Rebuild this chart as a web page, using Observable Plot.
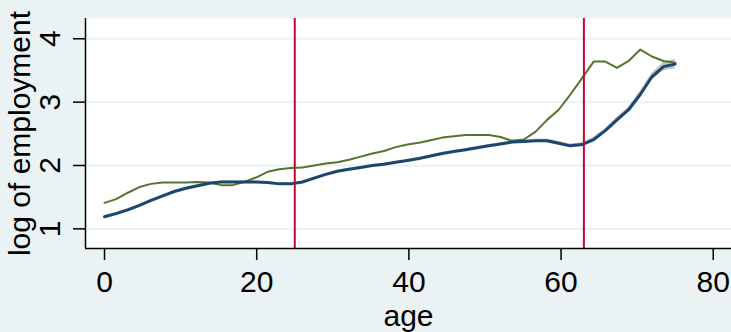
<!DOCTYPE html>
<html>
<head>
<meta charset="utf-8">
<script src="https://cdn.jsdelivr.net/npm/d3@7"></script>
<script src="https://cdn.jsdelivr.net/npm/@observablehq/plot@0.6"></script>
<style>
  html, body { margin: 0; padding: 0; background: #eaf2f3; }
  #chart { width: 731px; height: 332px; }
</style>
</head>
<body>
<div id="chart"></div>
<script>
// ---- data ----
const ages = [0, 1.53, 3.06, 4.59, 6.12, 7.65, 9.18, 10.71, 12.24, 13.78,
  15.31, 16.84, 18.37, 19.9, 21.43, 22.96, 24.49, 26.02, 27.55, 29.08,
  30.61, 32.14, 33.67, 35.2, 36.73, 38.27, 39.8, 41.33, 42.86, 44.39,
  45.92, 47.45, 48.98, 50.51, 52.04, 53.57, 55.1, 56.63, 58.16, 59.69,
  61.22, 62.76, 64.29, 65.82, 67.35, 68.88, 70.41, 71.94, 73.47, 75.0];

const greenSeries = [1.41, 1.47, 1.57, 1.66, 1.71, 1.73, 1.73, 1.73, 1.74, 1.73,
  1.69, 1.69, 1.74, 1.81, 1.90, 1.94, 1.96, 1.97, 2.00, 2.03,
  2.05, 2.09, 2.14, 2.19, 2.23, 2.29, 2.33, 2.36, 2.40, 2.44,
  2.46, 2.48, 2.48, 2.48, 2.45, 2.39, 2.41, 2.53, 2.72, 2.88,
  3.12, 3.38, 3.64, 3.64, 3.54, 3.65, 3.83, 3.72, 3.65, 3.62];

const blueSeries = [1.19, 1.24, 1.30, 1.37, 1.45, 1.52, 1.59, 1.64, 1.68, 1.72,
  1.74, 1.74, 1.74, 1.74, 1.73, 1.71, 1.71, 1.74, 1.80, 1.86,
  1.91, 1.94, 1.97, 2.00, 2.02, 2.05, 2.08, 2.11, 2.15, 2.19,
  2.22, 2.25, 2.28, 2.31, 2.34, 2.37, 2.38, 2.39, 2.39, 2.35,
  2.31, 2.33, 2.41, 2.55, 2.72, 2.88, 3.12, 3.40, 3.56, 3.60];

const blueCiHalf = [0.02, 0.02, 0.02, 0.015, 0.015, 0.015, 0.015, 0.015, 0.015, 0.015,
  0.015, 0.015, 0.015, 0.015, 0.015, 0.015, 0.015, 0.015, 0.015, 0.015,
  0.015, 0.015, 0.015, 0.015, 0.015, 0.015, 0.015, 0.015, 0.015, 0.015,
  0.015, 0.015, 0.02, 0.02, 0.02, 0.025, 0.025, 0.025, 0.03, 0.03,
  0.03, 0.03, 0.035, 0.035, 0.04, 0.045, 0.05, 0.055, 0.065, 0.075];

const cutoffAges = [25, 63];
const xTicks = [0, 20, 40, 60, 80];
const yTicks = [1, 2, 3, 4];
const xLabel = "age";
const yLabel = "log of employment";

// ---- build table ----
const rows = ages.map((a, i) => ({
  age: a,
  green: greenSeries[i],
  blue: blueSeries[i],
  lo: blueSeries[i] - blueCiHalf[i],
  hi: blueSeries[i] + blueCiHalf[i]
}));

const xDomain = [-2.5, 82.4];
const yDomain = [0.69, 4.32];
const font = "'Liberation Sans', Arial, Helvetica, sans-serif";

const chart = Plot.plot({
  width: 731,
  height: 332,
  marginLeft: 85,
  marginRight: 0,
  marginTop: 18,
  marginBottom: 84,
  style: { background: "#eaf2f3", fontFamily: font, fontSize: "30px", color: "#000" },
  x: { domain: xDomain, axis: null },
  y: { domain: yDomain, axis: null },
  marks: [
    Plot.frame({ fill: "#ffffff", stroke: "none" }),
    Plot.gridY(yTicks, { stroke: "#eaf2f3", strokeOpacity: 1, strokeWidth: 2 }),
    Plot.areaY(rows, { x: "age", y1: "lo", y2: "hi", fill: "#b8b8b8", fillOpacity: 0.85 }),
    Plot.line(rows, { x: "age", y: "green", stroke: "#55752f", strokeWidth: 2 }),
    Plot.line(rows, { x: "age", y: "blue", stroke: "#1a476f", strokeWidth: 3 }),
    Plot.ruleX(cutoffAges, { stroke: "#c10534", strokeWidth: 2 }),
    // axis lines
    Plot.ruleX([xDomain[0]], { stroke: "#000", strokeWidth: 1.5 }),
    Plot.ruleY([yDomain[0]], { stroke: "#000", strokeWidth: 1.5 }),
    // x axis
    Plot.axisX(xTicks, { tickSize: 12, tickPadding: 10, strokeWidth: 1.5, fontSize: 30, label: null, tickFormat: d => String(d) }),
    // y axis ticks
    Plot.axisY(yTicks, { tickSize: 12, strokeWidth: 1.5, tickFormat: () => "", label: null }),
    // y tick labels rotated
    Plot.text(yTicks, { y: d => d, text: d => String(d), frameAnchor: "left", dx: -26, rotate: -90,
      textAnchor: "middle", lineAnchor: "bottom", fontSize: 30, fill: "#000" }),
    // axis titles
    Plot.text([yLabel], { text: d => d, frameAnchor: "left", dx: -56, rotate: -90,
      textAnchor: "middle", lineAnchor: "bottom", fontSize: 30, fill: "#000" }),
    Plot.text([xLabel], { text: d => d, frameAnchor: "bottom", dy: 77,
      textAnchor: "middle", lineAnchor: "bottom", fontSize: 30, fill: "#000" })
  ]
});

document.getElementById("chart").appendChild(chart);
</script>
</body>
</html>
